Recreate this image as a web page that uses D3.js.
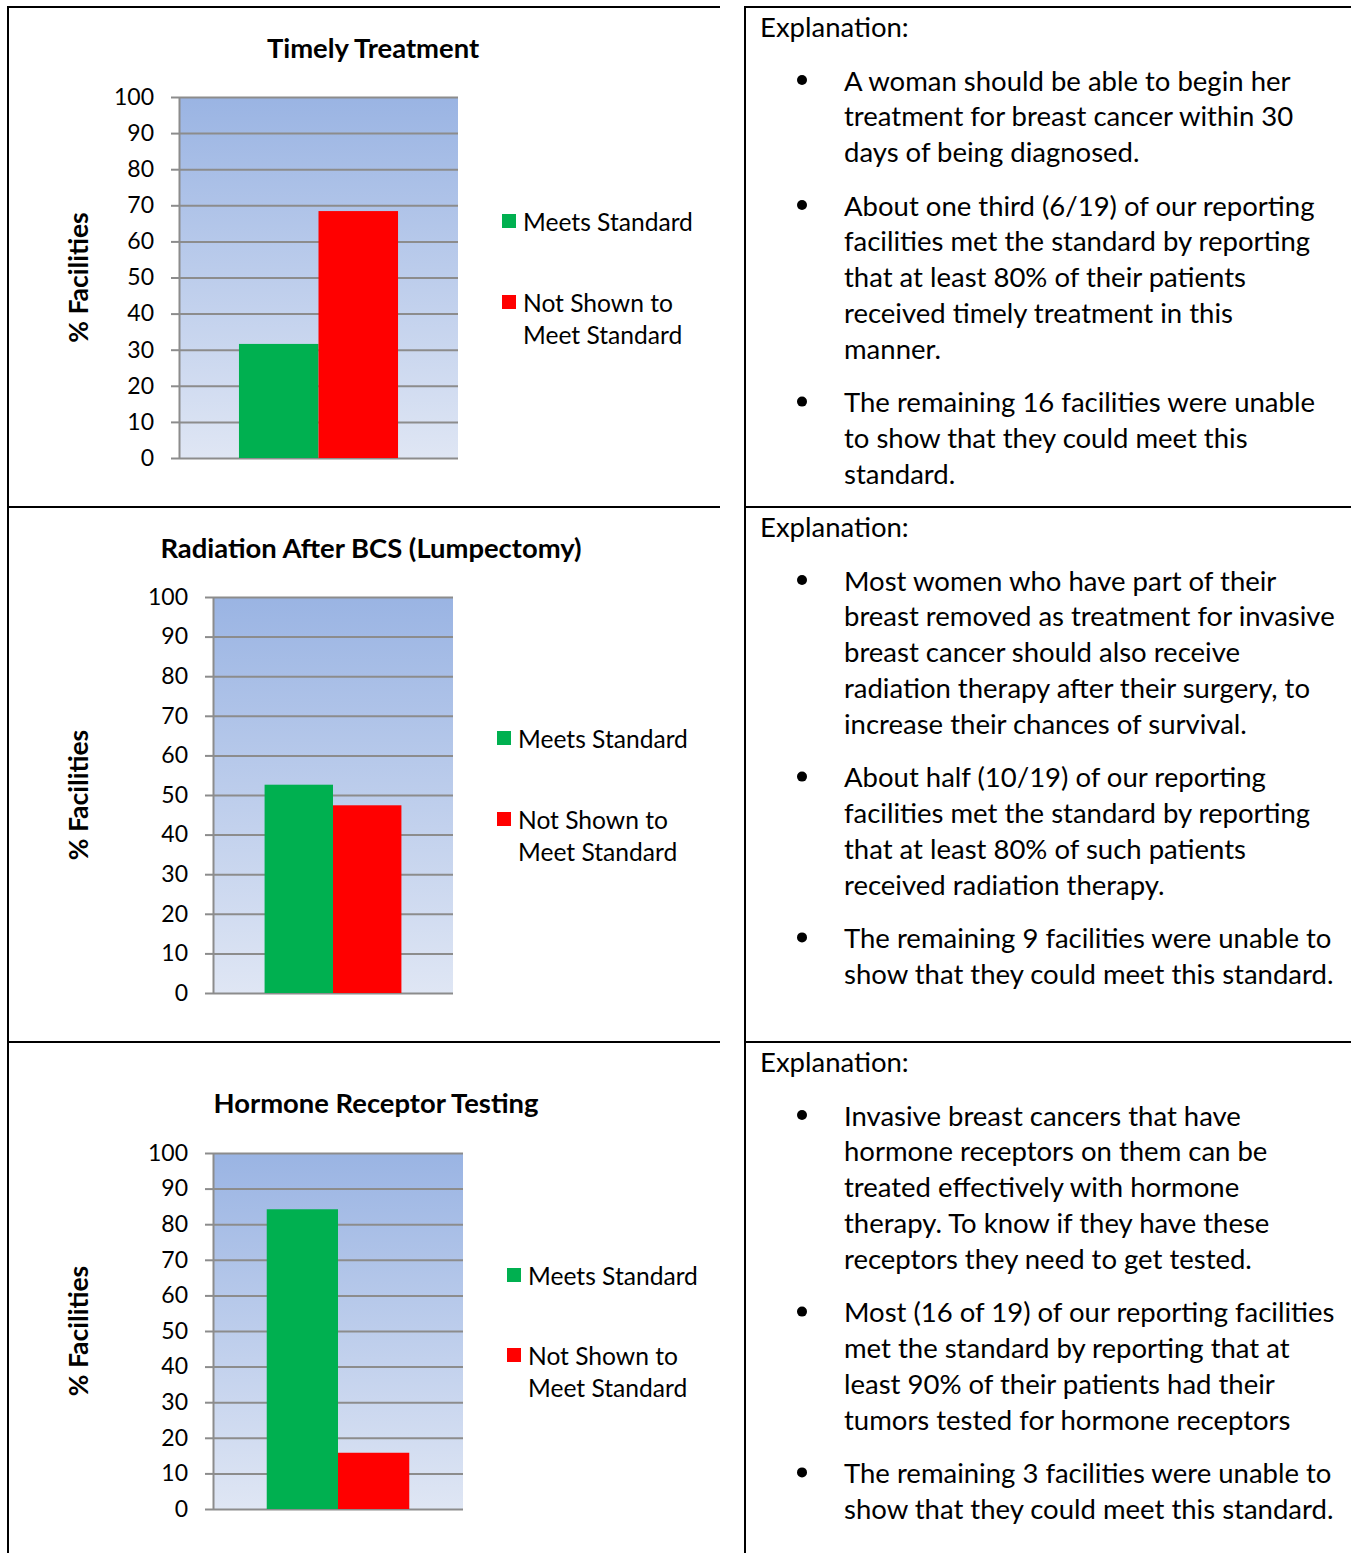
<!DOCTYPE html>
<html>
<head>
<meta charset="utf-8">
<script src="https://cdn.jsdelivr.net/npm/d3@7"></script>
<style>
  html, body { margin: 0; padding: 0; background: #fff; }
  svg { display: block; font-family: Lato, "Open Sans", sans-serif; }
</style>
</head>
<body>
<svg id="page" width="1351" height="1553"></svg>
<script>
// values (percent of reporting facilities)
const chartTitles = ["Timely Treatment", "Radiation After BCS (Lumpectomy)", "Hormone Receptor Testing"];
const seriesNames = ["Meets Standard", "Not Shown to Meet Standard"];
const meetsValues = [31.6, 52.6, 84.2];
const notShownValues = [68.4, 47.4, 15.8];
const yTicks = [0, 10, 20, 30, 40, 50, 60, 70, 80, 90, 100];
const yLabel = "% Facilities";

const explanations = [
    [
        ["A woman should be able to begin her", "treatment for breast cancer within 30", "days of being diagnosed."],
        ["About one third (6/19) of our reporting", "facilities met the standard by reporting", "that at least 80% of their patients", "received timely treatment in this", "manner."],
        ["The remaining 16 facilities were unable", "to show that they could meet this", "standard."]
    ],
    [
        ["Most women who have part of their", "breast removed as treatment for invasive", "breast cancer should also receive", "radiation therapy after their surgery, to", "increase their chances of survival."],
        ["About half (10/19) of our reporting", "facilities met the standard by reporting", "that at least 80% of such patients", "received radiation therapy."],
        ["The remaining 9 facilities were unable to", "show that they could meet this standard."]
    ],
    [
        ["Invasive breast cancers that have", "hormone receptors on them can be", "treated effectively with hormone", "therapy. To know if they have these", "receptors they need to get tested."],
        ["Most (16 of 19) of our reporting facilities", "met the standard by reporting that at", "least 90% of their patients had their", "tumors tested for hormone receptors"],
        ["The remaining 3 facilities were unable to", "show that they could meet this standard."]
    ]
];

const colors = { meets: "#00B050", notShown: "#FF0000", grid: "#8C8C8C" };

// where each chart sits on the page
const rowTops = [7, 507, 1042];
const layouts = [
    { titleX: 373, titleY: 47, left: 179, right: 458, top: 97, bottom: 458, legX: 502, legY: [221, 302] },
    { titleX: 371, titleY: 547, left: 213, right: 453, top: 597, bottom: 993, legX: 497, legY: [738, 819] },
    { titleX: 376, titleY: 1102, left: 213, right: 463, top: 1153, bottom: 1509, legX: 507, legY: [1275, 1355] }
];

const svg = d3.select("#page");

const defs = svg.append("defs");
const grad = defs.append("linearGradient")
    .attr("id", "plotBg").attr("x1", 0).attr("y1", 0).attr("x2", 0).attr("y2", 1);
grad.append("stop").attr("offset", "0%").attr("stop-color", "#9AB4E3");
grad.append("stop").attr("offset", "100%").attr("stop-color", "#DFE6F4");

// table borders
const border = svg.append("g").attr("stroke", "#000").attr("stroke-width", 2);
border.append("line").attr("x1", 8).attr("x2", 8).attr("y1", 6).attr("y2", 1553);
border.append("line").attr("x1", 745).attr("x2", 745).attr("y1", 6).attr("y2", 1553);
rowTops.forEach((t) => {
    border.append("line").attr("x1", 7).attr("x2", 720).attr("y1", t).attr("y2", t);
    border.append("line").attr("x1", 744).attr("x2", 1351).attr("y1", t).attr("y2", t);
});

const drawChart = (i) => {
    const L = layouts[i];
    const g = svg.append("g").attr("class", "chart");
    const values = [meetsValues[i], notShownValues[i]];

    const y = d3.scaleLinear().domain([0, 100]).range([L.bottom, L.top]);
    const x = d3.scaleBand().domain(seriesNames).range([L.left, L.right]).paddingInner(0).paddingOuter(0.754);

    g.append("rect")
        .attr("x", L.left).attr("y", L.top)
        .attr("width", L.right - L.left).attr("height", L.bottom - L.top)
        .attr("fill", "url(#plotBg)");

    // gridlines
    g.append("g")
        .attr("class", "grid")
        .attr("transform", `translate(${L.left},0)`)
        .call(d3.axisLeft(y).tickValues(yTicks).tickSize(-(L.right - L.left)).tickFormat(""))
        .call((s) => s.select(".domain").remove())
        .selectAll("line").attr("stroke", colors.grid).attr("stroke-width", 2);

    g.selectAll("rect.bar")
        .data(values)
        .join("rect")
        .attr("class", "bar")
        .attr("x", (d, k) => x(seriesNames[k]))
        .attr("width", x.bandwidth())
        .attr("y", (d) => y(d))
        .attr("height", (d) => y(0) - y(d))
        .attr("fill", (d, k) => (k === 0 ? colors.meets : colors.notShown));

    // y axis with labels
    const ax = g.append("g")
        .attr("transform", `translate(${L.left},0)`)
        .call(d3.axisLeft(y).tickValues(yTicks).tickSize(8).tickSizeOuter(0).tickPadding(17));
    ax.select(".domain").attr("stroke", colors.grid).attr("stroke-width", 2);
    ax.selectAll(".tick line").attr("stroke", colors.grid).attr("stroke-width", 2);
    ax.selectAll(".tick text")
        .attr("fill", "#000")
        .style("font-family", "Lato, sans-serif")
        .style("font-size", "23px");

    g.append("text")
        .attr("x", L.titleX).attr("y", L.titleY)
        .attr("text-anchor", "middle").attr("dominant-baseline", "central")
        .style("font-size", "27.4px").style("font-weight", "bold")
        .text(chartTitles[i]);

    g.append("text")
        .attr("transform", `translate(78,${(L.top + L.bottom) / 2}) rotate(-90)`)
        .attr("text-anchor", "middle").attr("dominant-baseline", "central")
        .style("font-size", "26.5px").style("font-weight", "bold")
        .text(yLabel);

    // legend
    const leg = g.append("g").style("font-size", "24.6px");
    leg.append("rect").attr("x", L.legX).attr("y", L.legY[0] - 7).attr("width", 14).attr("height", 14).attr("fill", colors.meets);
    leg.append("text").attr("x", L.legX + 21).attr("y", L.legY[0]).attr("dominant-baseline", "central")
        .text("Meets Standard");
    leg.append("rect").attr("x", L.legX).attr("y", L.legY[1] - 7).attr("width", 14).attr("height", 14).attr("fill", colors.notShown);
    const t2 = leg.append("text").attr("x", L.legX + 21).attr("y", L.legY[1]).attr("dominant-baseline", "central");
    t2.append("tspan").text("Not Shown to");
    t2.append("tspan").attr("x", L.legX + 21).attr("dy", 32).text("Meet Standard");
};

const drawExplanation = (i) => {
    const top = rowTops[i];
    const g = svg.append("g").attr("class", "explanation").style("font-size", "27.5px");
    g.append("text").attr("x", 760).attr("y", top + 19).attr("dominant-baseline", "central").text("Explanation:");
    let yy = top + 73;
    explanations[i].forEach((para) => {
        g.append("circle").attr("cx", 802).attr("cy", yy).attr("r", 5).attr("fill", "#000");
        para.forEach((line) => {
            g.append("text").attr("x", 844).attr("y", yy).attr("dominant-baseline", "central").text(line);
            yy += 35.8;
        });
        yy += 17.6;
    });
};

chartTitles.forEach((t, i) => {
    drawChart(i);
    drawExplanation(i);
});
</script>
</body>
</html>
